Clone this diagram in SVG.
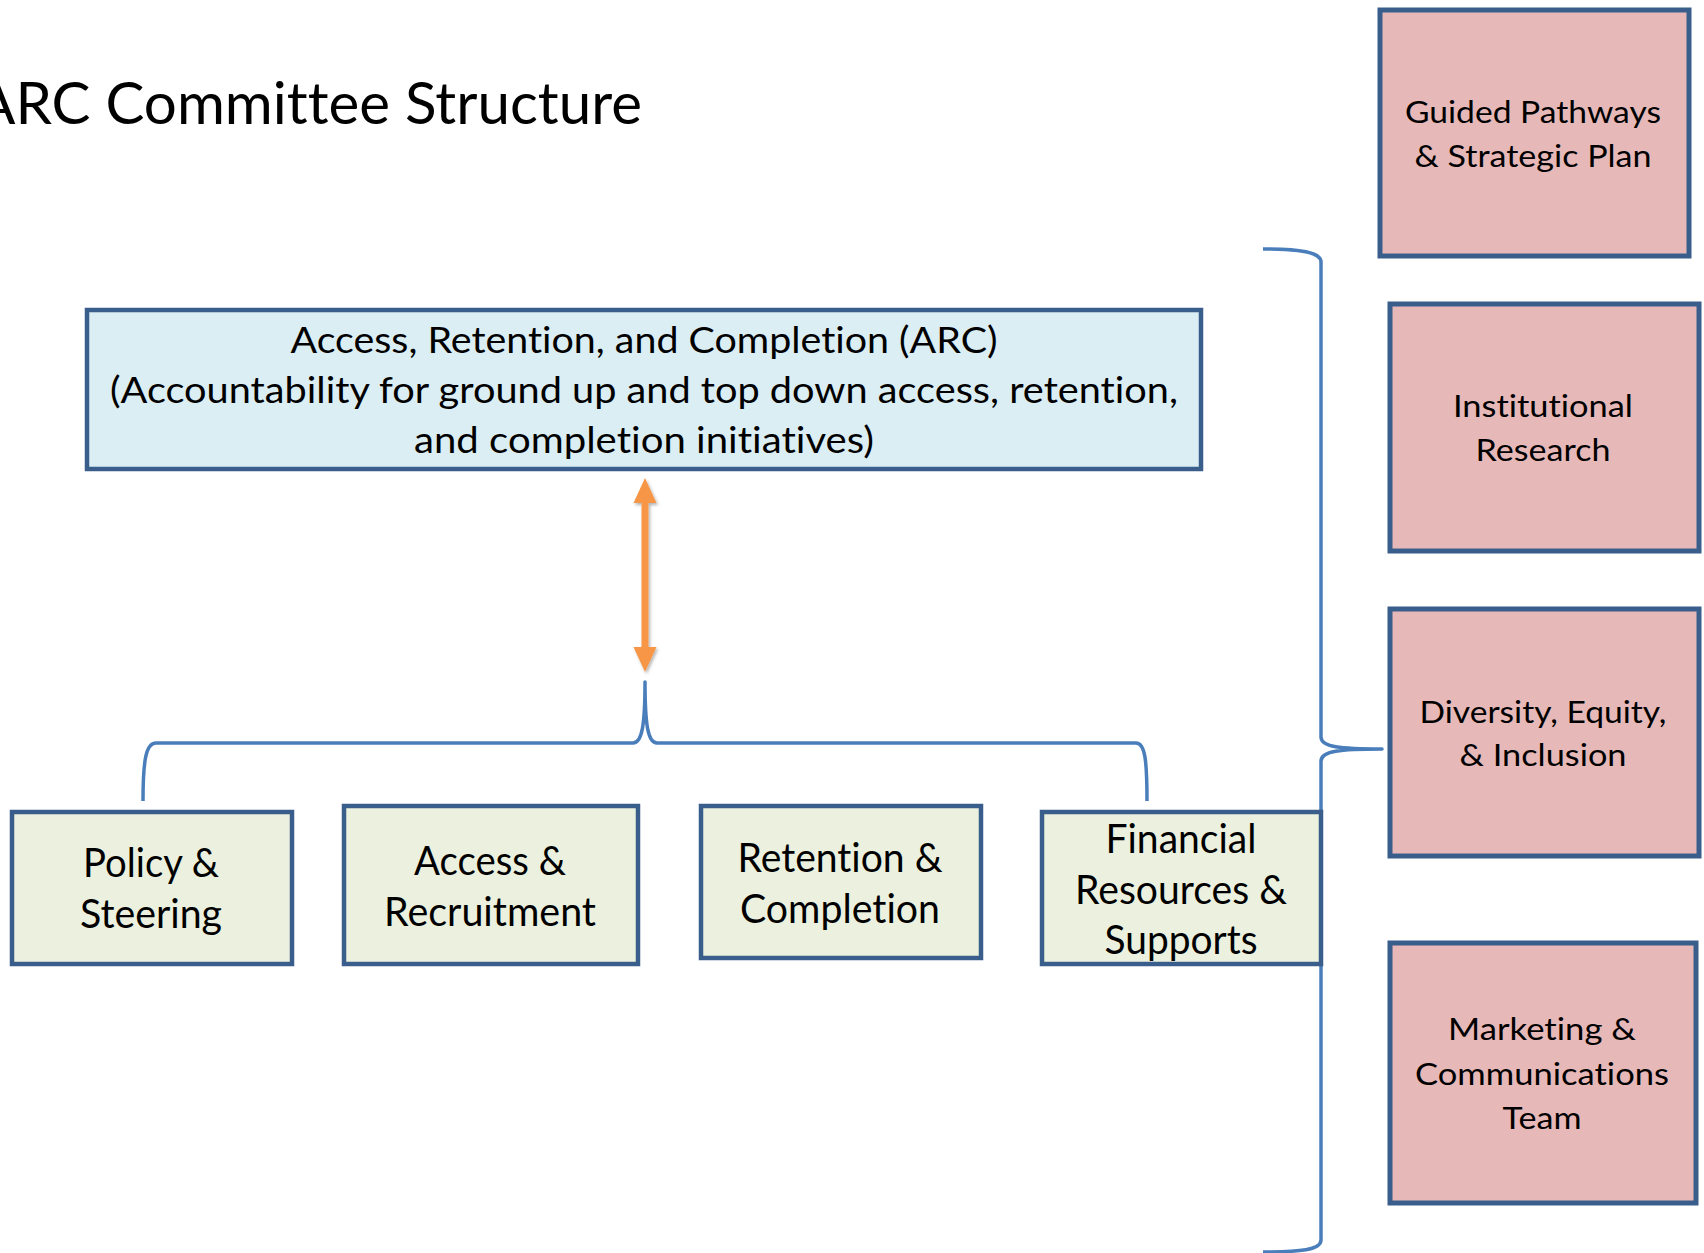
<svg xmlns="http://www.w3.org/2000/svg" width="1704" height="1253" viewBox="0 0 1704 1253">
<style>
  text { font-family: Lato, "Liberation Sans", sans-serif; fill: #000; text-anchor: middle; font-variant-ligatures: none; font-feature-settings: "liga" 0; }
  .box { stroke: #3A5E8C; stroke-width: 4.5; }
  .arc { fill: #DBEEF4; }
  .grn { fill: #EBF1DE; }
  .pnk { fill: #E6B9B8; stroke-width: 5; }
  .t1 { font-size: 36px; }
  .t2 { font-size: 40px; }
  .t3 { font-size: 30px; }
  .brace { fill: none; stroke: #4A7EBB; stroke-width: 3.5; stroke-linecap: butt; stroke-linejoin: round; }
</style>
<defs>
  <filter id="sh" x="-50%" y="-10%" width="200%" height="120%">
    <feDropShadow dx="1.5" dy="2" stdDeviation="1.5" flood-color="#000" flood-opacity="0.3"/>
  </filter>
</defs>
<rect width="1704" height="1253" fill="#fff"/>

<text id="title" x="-24" y="124" style="font-size:58px;text-anchor:start" textLength="666" lengthAdjust="spacingAndGlyphs">ARC Committee Structure</text>

<g id="connectors">
  <g id="arrow" filter="url(#sh)" fill="#F79646">
    <rect x="641.5" y="500" width="7" height="150"/>
    <polygon points="645,478 633.5,503 656.5,503"/>
    <polygon points="645,672 633.5,647 656.5,647"/>
  </g>
  <path id="brace-bottom" class="brace" d="M143,801 C143,760 146,743 156,743 L633,743 C642,743 645,725 645,682 C645,725 648,743 657,743 L1136,743 C1145,743 1147,760 1147,801"/>
  <path id="brace-right" class="brace" d="M1263,249 C1300,249 1321,252 1321,262 L1321,737 C1321,747 1340,749 1382,749 C1340,749 1321,751 1321,761 L1321,1240 C1321,1250 1300,1252 1263,1252"/>
</g>

<g id="node-arc">
  <rect class="box arc" x="87" y="310" width="1114" height="159"/>
  <text class="t1" x="644" y="353" textLength="707" lengthAdjust="spacingAndGlyphs">Access, Retention, and Completion (ARC)</text>
  <text class="t1" x="644" y="403" textLength="1068" lengthAdjust="spacingAndGlyphs">(Accountability for ground up and top down access, retention,</text>
  <text class="t1" x="644" y="453" textLength="460" lengthAdjust="spacingAndGlyphs">and completion initiatives)</text>
</g>

<g id="node-policy">
  <rect class="box grn" x="12" y="812" width="280" height="152"/>
  <text class="t2" x="151" y="877" textLength="136" lengthAdjust="spacingAndGlyphs">Policy &amp;</text>
  <text class="t2" x="151" y="928" textLength="142" lengthAdjust="spacingAndGlyphs">Steering</text>
</g>

<g id="node-access">
  <rect class="box grn" x="344" y="806" width="294" height="158"/>
  <text class="t2" x="490" y="875" textLength="152" lengthAdjust="spacingAndGlyphs">Access &amp;</text>
  <text class="t2" x="490" y="926" textLength="212" lengthAdjust="spacingAndGlyphs">Recruitment</text>
</g>

<g id="node-retention">
  <rect class="box grn" x="701" y="806" width="280" height="152"/>
  <text class="t2" x="840" y="872" textLength="205" lengthAdjust="spacingAndGlyphs">Retention &amp;</text>
  <text class="t2" x="840" y="923" textLength="200" lengthAdjust="spacingAndGlyphs">Completion</text>
</g>

<g id="node-financial">
  <rect class="box grn" x="1042" y="812" width="279" height="152"/>
  <text class="t2" x="1181" y="853" textLength="151" lengthAdjust="spacingAndGlyphs">Financial</text>
  <text class="t2" x="1181" y="904" textLength="212" lengthAdjust="spacingAndGlyphs">Resources &amp;</text>
  <text class="t2" x="1181" y="954" textLength="153" lengthAdjust="spacingAndGlyphs">Supports</text>
</g>

<g id="node-guided">
  <rect class="box pnk" x="1380" y="10" width="309" height="246"/>
  <text class="t3" x="1533" y="123" textLength="256" lengthAdjust="spacingAndGlyphs">Guided Pathways</text>
  <text class="t3" x="1533" y="167" textLength="237" lengthAdjust="spacingAndGlyphs">&amp; Strategic Plan</text>
</g>

<g id="node-ir">
  <rect class="box pnk" x="1390" y="304" width="309" height="247"/>
  <text class="t3" x="1543" y="417" textLength="180" lengthAdjust="spacingAndGlyphs">Institutional</text>
  <text class="t3" x="1543" y="461" textLength="135" lengthAdjust="spacingAndGlyphs">Research</text>
</g>

<g id="node-dei">
  <rect class="box pnk" x="1390" y="609" width="309" height="247"/>
  <text class="t3" x="1543" y="723" textLength="247" lengthAdjust="spacingAndGlyphs">Diversity, Equity,</text>
  <text class="t3" x="1543" y="766" textLength="167" lengthAdjust="spacingAndGlyphs">&amp; Inclusion</text>
</g>

<g id="node-marketing">
  <rect class="box pnk" x="1390" y="943" width="306" height="260"/>
  <text class="t3" x="1542" y="1040" textLength="188" lengthAdjust="spacingAndGlyphs">Marketing &amp;</text>
  <text class="t3" x="1542" y="1085" textLength="254" lengthAdjust="spacingAndGlyphs">Communications</text>
  <text class="t3" x="1542" y="1129" textLength="79" lengthAdjust="spacingAndGlyphs">Team</text>
</g>
</svg>
